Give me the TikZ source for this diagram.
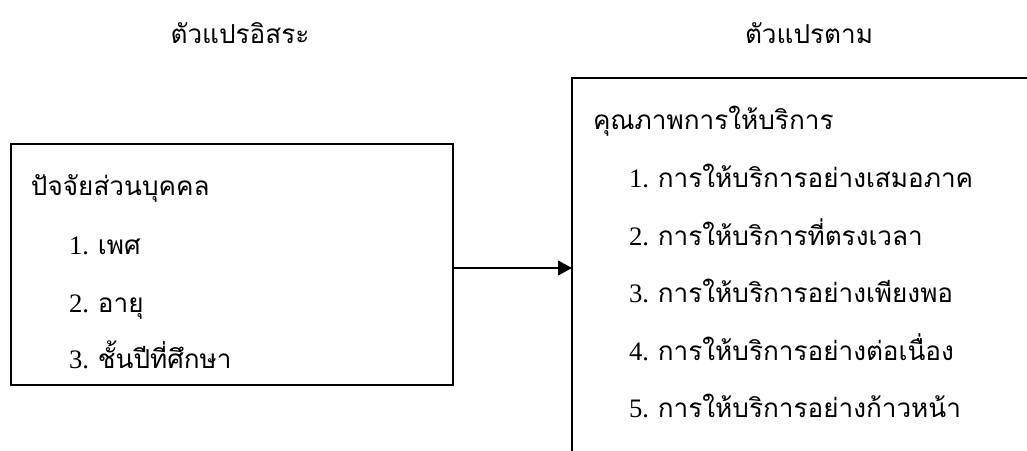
\documentclass[tikz,border=0pt]{standalone}
\usepackage{fontspec}
\setmainfont{Liberation Serif}
\newfontfamily\thai[Script=Thai,Scale=0.98]{Loma}
\usetikzlibrary{arrows.meta}

\begin{document}
\begin{tikzpicture}[x=0.75pt,y=-0.75pt,
  every node/.style={inner sep=0pt,outer sep=0pt,font=\fontsize{20pt}{22pt}\selectfont},
  frame/.style={draw,line width=0.9pt,rectangle,inner sep=0pt},
  txt/.style={anchor=base west},
  ttl/.style={anchor=base},
  link/.style={line width=1.6pt,-{Triangle[length=10.5pt,width=11pt]}}]
  \useasboundingbox (0,0) rectangle (1027,450);
  \clip (0,0) rectangle (1027,450);

  % headings
  \node[ttl] (tiv) at (240,43) {\thai ตัวแปรอิสระ};
  \node[ttl] (tdv) at (809,43) {\thai ตัวแปรตาม};

  % independent variable box: 442 x 241 units
  \node[frame,minimum width=331.5pt,minimum height=180.75pt] (ivbox) at (232,264.5) {};
  \node[txt] (iv0) at (31,195) {\thai ปัจจัยส่วนบุคคล};
  \node[txt] (iv1) at (69,254) {1. \thai เพศ};
  \node[txt] (iv2) at (69,312) {2. \thai อายุ};
  \node[txt] (iv3) at (69,368) {3. \thai ชั้นปีที่ศึกษา};

  % dependent variable box: 480 x 380 units, runs past the right and bottom edges
  \node[frame,minimum width=360pt,minimum height=285pt] (dvbox) at (812,268) {};
  \node[txt] (dv0) at (593,129) {\thai คุณภาพการให้บริการ};
  \node[txt] (dv1) at (629,187) {1. \thai การให้บริการอย่างเสมอภาค};
  \node[txt] (dv2) at (629,245) {2. \thai การให้บริการที่ตรงเวลา};
  \node[txt] (dv3) at (629,302) {3. \thai การให้บริการอย่างเพียงพอ};
  \node[txt] (dv4) at (629,360) {4. \thai การให้บริการอย่างต่อเนื่อง};
  \node[txt] (dv5) at (629,417) {5. \thai การให้บริการอย่างก้าวหน้า};

  % connector
  \draw[link] (ivbox.east |- dvbox.west) -- (dvbox.west);
\end{tikzpicture}
\end{document}
